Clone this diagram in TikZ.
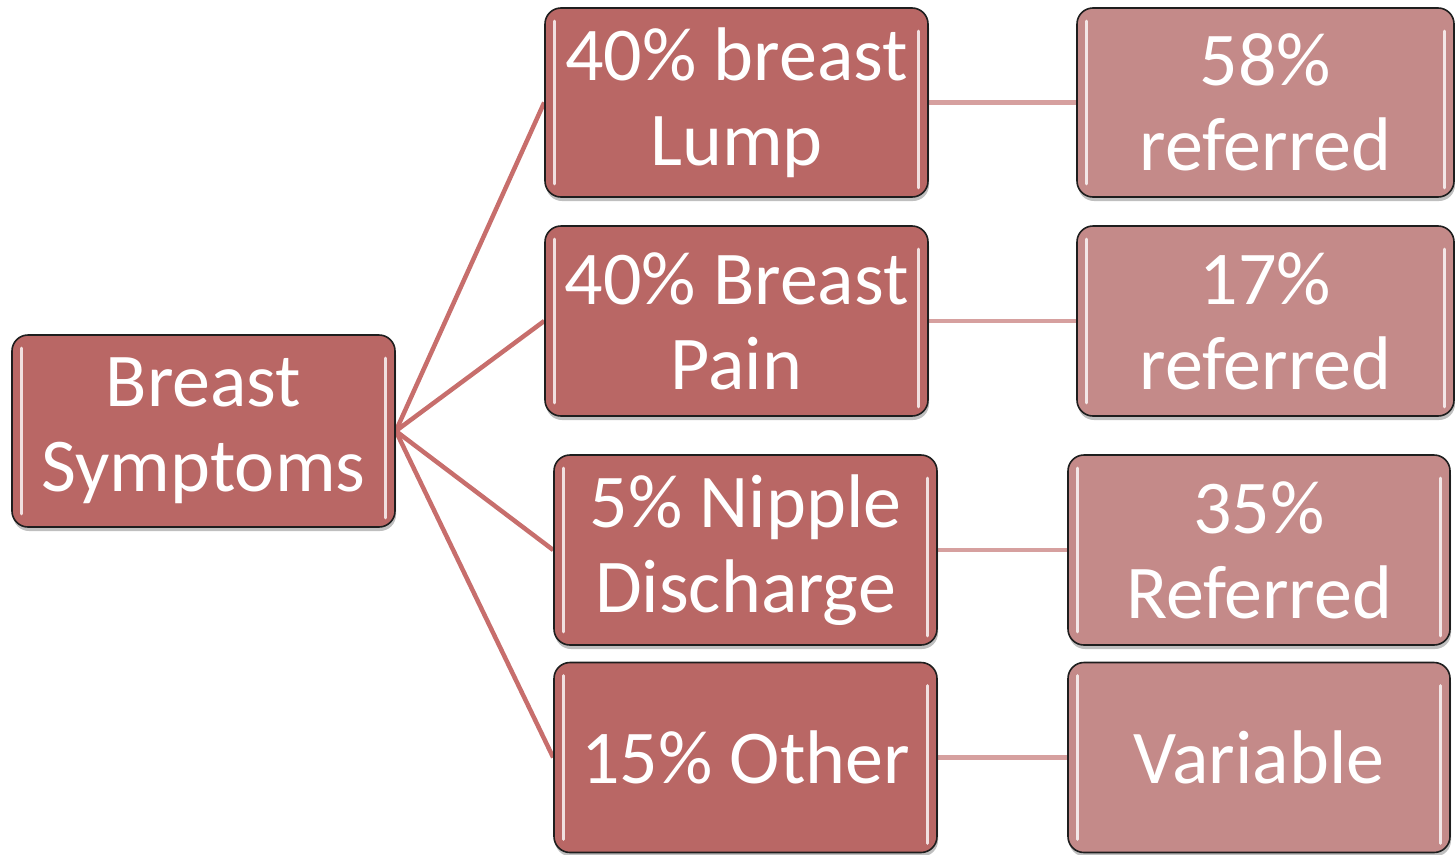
\documentclass[tikz,border=0pt]{standalone}
\usepackage{fontspec}
\setmainfont{Carlito}
\usetikzlibrary{shadows,backgrounds}
\definecolor{mainfill}{RGB}{185,103,101}
\definecolor{reffill}{RGB}{196,138,137}
\definecolor{mainline}{RGB}{199,110,108}
\definecolor{refline}{RGB}{214,160,159}
\definecolor{boxedge}{RGB}{30,30,30}
\tikzset{
  gbox/.style={rectangle, rounded corners=16pt, draw=boxedge, line width=1.6pt,
    text=white, align=center, inner sep=0pt,
    font=\fontsize{76}{85}\selectfont,
    drop shadow={shadow xshift=1pt, shadow yshift=-4pt, opacity=0.25, fill=black}},
  mainbox/.style={gbox, fill=mainfill},
  refbox/.style={gbox, fill=reffill},
  mconn/.style={draw=mainline, line width=4.5pt},
  rconn/.style={draw=refline, line width=4.5pt},
  gloss/.style={draw=white, opacity=0.8, line width=3pt, line cap=round}
}
\begin{document}
\begin{tikzpicture}[x=1pt,y=-1pt]
\useasboundingbox (0,0) rectangle (1455,854);
% nodes
\node[mainbox, minimum width=383pt, minimum height=192pt] (root) at (203.5,431) {Breast\\Symptoms};
\node[mainbox, minimum width=383pt, minimum height=189pt] (m1) at (736.5,102.5) {40\% breast\\Lump};
\node[mainbox, minimum width=383pt, minimum height=190pt] (m2) at (736.5,321) {40\% Breast\\Pain};
\node[mainbox, minimum width=383pt, minimum height=190pt] (m3) at (745.5,550) {5\% Nipple\\Discharge};
\node[mainbox, minimum width=383pt, minimum height=190pt] (m4) at (745.5,757.5) {15\% Other};
\node[refbox, minimum width=377pt, minimum height=189pt] (r1) at (1265.5,102.5) {58\%\\referred};
\node[refbox, minimum width=377pt, minimum height=190pt] (r2) at (1265.5,321) {17\%\\referred};
\node[refbox, minimum width=382pt, minimum height=190pt] (r3) at (1259,550) {35\%\\Referred};
\node[refbox, minimum width=382pt, minimum height=190pt] (r4) at (1259,757.5) {Variable};
% gloss highlights
\foreach \n in {root,m1,m2,m3,m4,r1,r2,r3,r4}{
  \draw[gloss] ([xshift=10pt,yshift=-14pt]\n.north west) -- ([xshift=10pt,yshift=14pt]\n.south west);
  \draw[gloss] ([xshift=-10pt,yshift=-24pt]\n.north east) -- ([xshift=-10pt,yshift=10pt]\n.south east);
}
% connectors
\begin{scope}[on background layer]
\foreach \m in {m1,m2,m3,m4}{ \draw[mconn] (root.east) -- (\m.west); }
\draw[rconn] (m1.east) -- (r1.west);
\draw[rconn] (m2.east) -- (r2.west);
\draw[rconn] (m3.east) -- (r3.west);
\draw[rconn] (m4.east) -- (r4.west);
\end{scope}
\end{tikzpicture}
\end{document}
